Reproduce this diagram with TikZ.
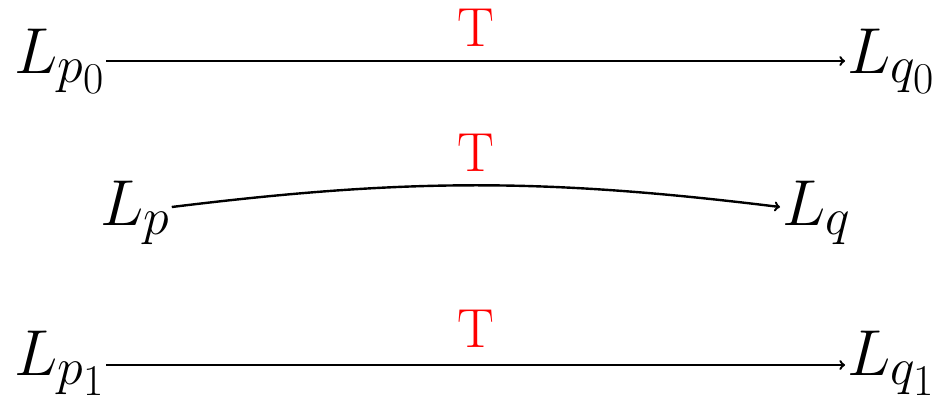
\documentclass[tikz,border=0pt]{standalone}
\usepackage{fix-cm}
\DeclareMathSizes{65}{65}{52}{44}
\begin{document}
\begin{tikzpicture}[x=1pt,y=-1pt,
  obj/.style={inner sep=2pt,font=\fontsize{65}{70}\selectfont},
  lab/.style={inner sep=0pt,text=red,font=\fontsize{55}{60}\selectfont},
  arr/.style={->,line width=2.4pt}]
\useasboundingbox (0,0) rectangle (942,402);
\node[obj,anchor=base west] (p0) at (12,73) {$L_{p_0}$};
\node[obj,anchor=base west] (q0) at (845,73) {$L_{q_0}$};
\node[obj,anchor=base west] (p) at (98,225) {$L_{p}$};
\node[obj,anchor=base west] (q) at (780,225) {$L_{q}$};
\node[obj,anchor=base west] (p1) at (12,375) {$L_{p_1}$};
\node[obj,anchor=base west] (q1) at (845,375) {$L_{q_1}$};
\node[lab,anchor=base] (t0) at (476,46) {T};
\node[lab,anchor=base] (t) at (476,171) {T};
\node[lab,anchor=base] (t1) at (476,347) {T};
\draw[arr] ([yshift=12pt]p0.base east) -- ([yshift=12pt]q0.base west);
\draw[arr] ([yshift=18pt]p.base east) to[bend left=7] ([yshift=18pt]q.base west);
\draw[arr] ([yshift=10pt]p1.base east) -- ([yshift=10pt]q1.base west);
\end{tikzpicture}
\end{document}
